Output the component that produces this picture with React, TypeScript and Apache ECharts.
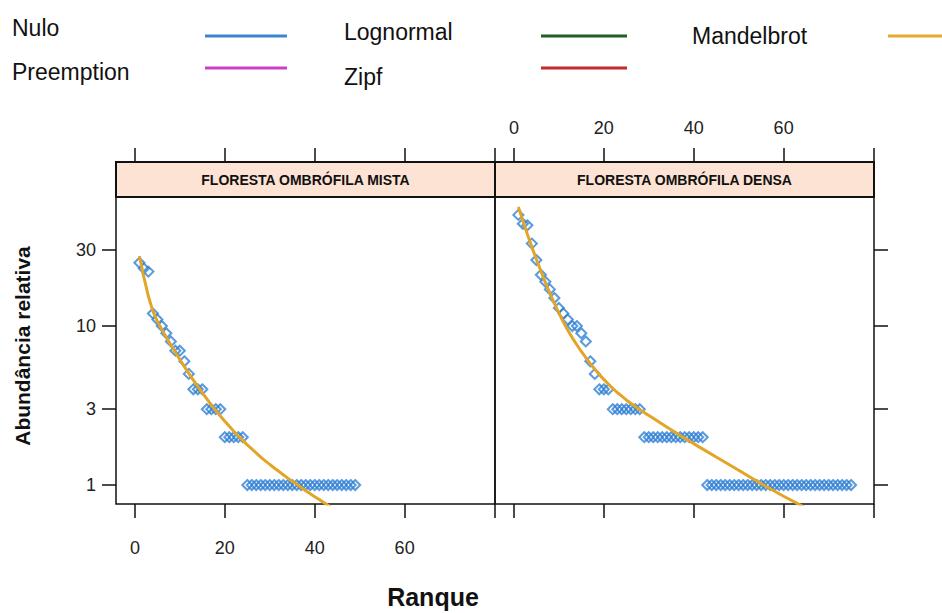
import { useEffect, useRef } from "react";
import * as echarts from "echarts";

// ---- data ----
const xTickValues = [0, 20, 40, 60, 80];
const xLabelValues = [0, 20, 40, 60];
const yTickValues = [1, 3, 10, 30];
const panelTitles = ["FLORESTA OMBRÓFILA MISTA", "FLORESTA OMBRÓFILA DENSA"];

// observed abundance by rank (rank = index + 1)
const mistaAbund = [
  25, 23, 22, 12, 11, 10, 9, 8, 7, 7, 6, 5, 4, 4, 4, 3, 3, 3, 3, 2, 2, 2, 2, 2,
  1, 1, 1, 1, 1, 1, 1, 1, 1, 1, 1, 1, 1, 1, 1, 1, 1, 1, 1, 1, 1, 1, 1, 1, 1,
];
const densaAbund = [
  50, 44, 43, 33, 26, 21, 19, 17, 15, 13, 12, 11, 10, 10, 9, 8, 6, 5, 4, 4, 4,
  3, 3, 3, 3, 3, 3, 3,
  2, 2, 2, 2, 2, 2, 2, 2, 2, 2, 2, 2, 2, 2,
  1, 1, 1, 1, 1, 1, 1, 1, 1, 1, 1, 1, 1, 1, 1, 1, 1, 1, 1, 1, 1, 1, 1, 1, 1, 1,
  1, 1, 1, 1, 1, 1, 1,
];

// fitted Mandelbrot curve (rank, value)
const mistaFitRank = [
  1, 2, 3, 4, 5, 6, 7, 8, 9, 10, 11, 12, 13, 14, 15, 16, 17, 18, 19, 20, 21, 22,
  23, 24, 25, 26, 27, 28, 29, 30, 31, 32, 33, 34, 35, 36, 37, 38, 39, 40, 41, 42,
  45, 49,
];
const mistaFit = [
  27.6, 20.3, 15.4, 12.4, 10.7, 9.51, 8.47, 7.59, 6.83, 6.16, 5.56, 5.04, 4.57,
  4.16, 3.8, 3.48, 3.19, 2.94, 2.72, 2.52, 2.34, 2.18, 2.03, 1.91, 1.79, 1.69,
  1.59, 1.5, 1.42, 1.35, 1.28, 1.22, 1.16, 1.105, 1.055, 1.01, 0.964, 0.922,
  0.883, 0.845, 0.811, 0.777, 0.686, 0.585,
];
const densaFitRank = [
  1, 2, 3, 4, 5, 6, 7, 8, 9, 10, 11, 12, 13, 14, 15, 16, 17, 18, 19, 20, 21, 22,
  23, 24, 25, 26, 27, 28, 31, 34, 37, 41, 45, 50, 55, 60, 65, 70, 75,
];
const densaFit = [
  56.0, 45.9, 37.8, 31.4, 26.3, 22.2, 18.8, 16.1, 13.9, 12.1, 10.6, 9.41, 8.43,
  7.63, 6.92, 6.32, 5.8, 5.35, 4.95, 4.62, 4.32, 4.06, 3.82, 3.62, 3.43, 3.27,
  3.12, 2.98, 2.63, 2.32, 2.05, 1.75, 1.5, 1.24, 1.02, 0.85, 0.716, 0.606, 0.515,
];

const modelNames = ["Nulo", "Preemption", "Lognormal", "Zipf", "Mandelbrot"];
const modelColors = ["#3d85d0", "#cc3fcc", "#1f5f24", "#c42a2a", "#e6aa2e"];

const FONT = "'Liberation Sans', Arial, sans-serif";
const POINT_COLOR = "#2f80d4";
const FIT_COLOR = "#e2a526";

export default function App() {
  const ref = useRef<HTMLDivElement>(null);

  useEffect(() => {
    if (!ref.current) return;
    const chart = echarts.init(ref.current, null, { renderer: "svg" });

    const gridTop = 197;
    const gridH = 307;
    const gridW = 379;
    const lefts = [116, 495];
    const stripH = 35;

    const xBase = {
      type: "value" as const,
      min: -4.2,
      max: 80.1,
      splitLine: { show: false },
      axisLine: { show: false, onZero: false },
    };
    const tickStyle = { length: 14, lineStyle: { color: "#111", width: 1.5 } };

    const xAxis = [
      {
        ...xBase,
        gridIndex: 0,
        position: "bottom",
        axisTick: { show: true, customValues: xTickValues, ...tickStyle },
        axisLabel: {
          show: true,
          customValues: xLabelValues,
          fontSize: 18,
          fontFamily: FONT,
          color: "#222",
          margin: 35,
        },
      },
      {
        ...xBase,
        gridIndex: 0,
        position: "top",
        offset: stripH,
        axisTick: { show: true, customValues: xTickValues, ...tickStyle },
        axisLabel: { show: false },
      },
      {
        ...xBase,
        gridIndex: 1,
        position: "bottom",
        axisTick: { show: true, customValues: xTickValues, ...tickStyle },
        axisLabel: { show: false },
      },
      {
        ...xBase,
        gridIndex: 1,
        position: "top",
        offset: stripH,
        axisTick: { show: true, customValues: xTickValues, ...tickStyle },
        axisLabel: {
          show: true,
          customValues: xLabelValues,
          fontSize: 18,
          fontFamily: FONT,
          color: "#222",
          margin: 25,
        },
      },
    ];

    const yBase = {
      type: "log" as const,
      logBase: 10,
      min: 0.76,
      max: 64.8,
      splitLine: { show: false },
      axisLine: { show: false, onZero: false },
    };
    const yAxis = [
      {
        ...yBase,
        gridIndex: 0,
        position: "left",
        axisTick: { show: true, customValues: yTickValues, ...tickStyle },
        axisLabel: {
          show: true,
          customValues: yTickValues,
          fontSize: 18,
          fontFamily: FONT,
          color: "#222",
          margin: 20,
        },
      },
      {
        ...yBase,
        gridIndex: 1,
        position: "right",
        axisTick: { show: true, customValues: yTickValues, ...tickStyle },
        axisLabel: { show: false },
      },
    ];

    const grid = lefts.map((l) => ({
      left: l,
      top: gridTop,
      width: gridW,
      height: gridH,
      show: true,
      borderColor: "#111",
      borderWidth: 1.5,
      backgroundColor: "transparent",
    }));

    const scatterStyle = {
      symbol: "diamond",
      symbolSize: 10,
      itemStyle: {
        color: "rgba(255,255,255,0)",
        borderColor: POINT_COLOR,
        borderWidth: 2,
      },
      z: 2,
    };
    const lineStyle = {
      showSymbol: false,
      symbol: "none",
      clip: true,
      lineStyle: { color: FIT_COLOR, width: 3 },
      z: 3,
    };

    const series: any[] = [
      {
        type: "scatter",
        xAxisIndex: 0,
        yAxisIndex: 0,
        data: mistaAbund.map((v, i) => [i + 1, v]),
        ...scatterStyle,
      },
      {
        type: "line",
        xAxisIndex: 0,
        yAxisIndex: 0,
        data: mistaFitRank.map((r, i) => [r, mistaFit[i]]),
        ...lineStyle,
      },
      {
        type: "scatter",
        xAxisIndex: 2,
        yAxisIndex: 1,
        data: densaAbund.map((v, i) => [i + 1, v]),
        ...scatterStyle,
      },
      {
        type: "line",
        xAxisIndex: 2,
        yAxisIndex: 1,
        data: densaFitRank.map((r, i) => [r, densaFit[i]]),
        ...lineStyle,
      },
    ];

    // strips
    const graphic: any[] = [];
    lefts.forEach((l, i) => {
      graphic.push({
        type: "rect",
        shape: { x: l, y: gridTop - stripH, width: gridW, height: stripH },
        style: { fill: "#fce3d3", stroke: "#111", lineWidth: 2 },
        z: 10,
      });
      graphic.push({
        type: "text",
        x: l + gridW / 2,
        y: gridTop - stripH / 2,
        style: {
          text: panelTitles[i],
          fontSize: 14,
          fontWeight: "bold",
          fontFamily: FONT,
          fill: "#111",
          align: "center",
          verticalAlign: "middle",
        },
        z: 11,
      });
    });

    // legend (key)
    const legendText = [
      { x: 12, y: 28 },
      { x: 12, y: 72 },
      { x: 344, y: 32 },
      { x: 344, y: 77 },
      { x: 692, y: 36 },
    ];
    const legendLine = [
      { x1: 205, x2: 287, y: 36 },
      { x1: 205, x2: 287, y: 68 },
      { x1: 541, x2: 627, y: 36 },
      { x1: 541, x2: 627, y: 68 },
      { x1: 888, x2: 960, y: 36 },
    ];
    modelNames.forEach((name, i) => {
      graphic.push({
        type: "text",
        x: legendText[i].x,
        y: legendText[i].y,
        style: {
          text: name,
          fontSize: 23,
          fontFamily: FONT,
          fill: "#111",
          align: "left",
          verticalAlign: "middle",
        },
      });
      graphic.push({
        type: "line",
        shape: {
          x1: legendLine[i].x1,
          y1: legendLine[i].y,
          x2: legendLine[i].x2,
          y2: legendLine[i].y,
        },
        style: { stroke: modelColors[i], lineWidth: 3 },
      });
    });

    // axis titles
    graphic.push({
      type: "text",
      x: 22,
      y: 346,
      rotation: Math.PI / 2,
      style: {
        text: "Abundância relativa",
        fontSize: 21,
        fontWeight: "bold",
        fontFamily: FONT,
        fill: "#111",
        align: "center",
        verticalAlign: "middle",
      },
    });
    graphic.push({
      type: "text",
      x: 433,
      y: 597,
      style: {
        text: "Ranque",
        fontSize: 25,
        fontWeight: "bold",
        fontFamily: FONT,
        fill: "#111",
        align: "center",
        verticalAlign: "middle",
      },
    });

    chart.setOption({
      animation: false,
      backgroundColor: "#fff",
      grid,
      xAxis,
      yAxis,
      series,
      graphic,
    });

    return () => chart.dispose();
  }, []);

  return (
    <div
      ref={ref}
      style={{ position: "absolute", left: 0, top: 0, width: 942, height: 613 }}
    />
  );
}
